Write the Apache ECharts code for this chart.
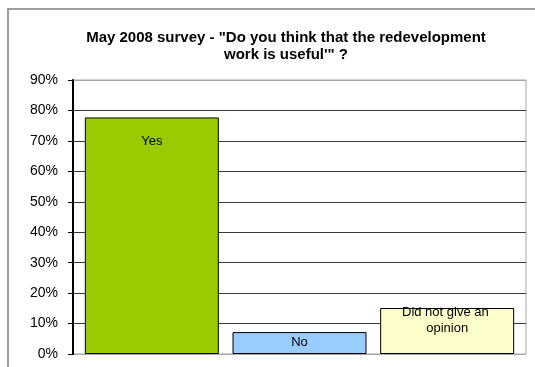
<!DOCTYPE html>
<html>
<head>
<meta charset="utf-8">
<script src="https://cdn.jsdelivr.net/npm/echarts@6/dist/echarts.min.js"></script>
<style>
  html, body { margin: 0; padding: 0; background: #fff; }
  #chart { width: 535px; height: 367px; }
</style>
</head>
<body>
<div id="chart"></div>
<script>
// Survey answers, in percent
var categories = ['Yes', 'No', 'Did not give an opinion'];
var shares = [77.7, 7.2, 15.1];
var barColors = ['#99CC00', '#99CCFF', '#FFFFCC'];
// Value axis ticks (percent)
var tickMin = 0, tickMax = 90, tickStep = 10;

var FONT = '"Liberation Sans", Arial, sans-serif';

// Plot border / 0% line are light grey, inner gridlines dark
var gridColors = [];
for (var v = tickMin; v <= tickMax; v += tickStep) {
  gridColors.push(v === tickMin || v === tickMax ? '#a6a6a6' : '#3a3a3a');
}

// Per-bar label placement (label sits inside the top of each bar)
var labelDistances = [16, 2, -4];

var chart = echarts.init(document.getElementById('chart'), null, { renderer: 'canvas' });

chart.setOption({
  animation: false,
  backgroundColor: '#ffffff',
  title: {
    text: 'May 2008 survey - "Do you think that the redevelopment\nwork is useful\'" ?',
    left: 281,
    top: 24,
    textAlign: 'center',
    textStyle: {
      fontFamily: FONT,
      fontSize: 15,
      fontWeight: 'bold',
      color: '#000',
      lineHeight: 17
    }
  },
  graphic: [{
    type: 'rect',
    shape: { x: 8, y: 9, width: 600, height: 400 },
    style: { fill: 'none', stroke: '#7f7f7f', lineWidth: 1.5 },
    z: -10
  }],
  grid: [
    // axis / gridline frame
    { left: 73, right: 9, top: 80, bottom: 13, show: true, borderColor: '#a6a6a6', borderWidth: 1 },
    // bar layout area
    { left: 78, right: 14, top: 80, bottom: 13 }
  ],
  xAxis: [
    { gridIndex: 0, type: 'category', data: categories, show: false },
    { gridIndex: 1, type: 'category', data: categories, show: false, boundaryGap: true }
  ],
  yAxis: [
    {
      gridIndex: 0,
      type: 'value',
      min: tickMin,
      max: tickMax,
      interval: tickStep,
      axisLine: { show: true, lineStyle: { color: '#000', width: 2 } },
      axisTick: { show: true, length: 5, inside: false, lineStyle: { color: '#000', width: 1 } },
      axisLabel: {
        formatter: '{value}%',
        fontFamily: FONT,
        fontSize: 14,
        color: '#000',
        margin: 15
      },
      splitLine: { show: true, lineStyle: { color: gridColors, width: 1 } }
    },
    { gridIndex: 1, type: 'value', min: tickMin, max: tickMax, show: false, splitLine: { show: false } }
  ],
  series: [{
    type: 'bar',
    xAxisIndex: 1,
    yAxisIndex: 1,
    barWidth: 134,
    data: shares.map(function (s, i) {
      return {
        value: s,
        itemStyle: { color: barColors[i], borderColor: '#000', borderWidth: 1 },
        label: { distance: labelDistances[i] }
      };
    }),
    label: {
      show: true,
      position: 'insideTop',
      formatter: '{b}',
      fontFamily: FONT,
      fontSize: 13,
      color: '#000',
      width: 100,
      overflow: 'break',
      lineHeight: 16,
      align: 'center'
    }
  }]
});
</script>
</body>
</html>
